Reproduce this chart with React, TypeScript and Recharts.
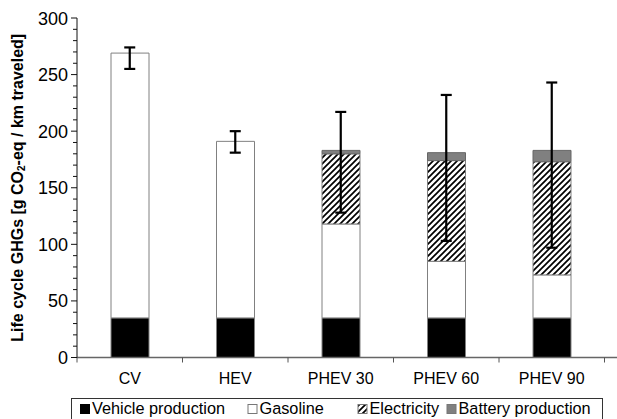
import React from 'react';
import { ComposedChart, Bar, Line, XAxis, YAxis, Legend, ErrorBar } from 'recharts';

const categories = ['CV', 'HEV', 'PHEV 30', 'PHEV 60', 'PHEV 90'];
const vehicleProduction = [35, 35, 35, 35, 35];
const gasoline = [234, 156, 83, 50, 38];
const electricity = [0, 0, 62, 89, 100];
const batteryProduction = [0, 0, 3, 7, 10];
const errorLow = [14, 10, 55, 78, 86];
const errorHigh = [5, 9, 34, 51, 60];
const yTicks = [0, 10, 20, 30, 40, 50, 60, 70, 80, 90, 100, 110, 120, 130, 140, 150, 160, 170, 180, 190, 200, 210, 220, 230, 240, 250, 260, 270, 280, 290, 300];
const seriesNames = ['Vehicle production', 'Gasoline', 'Electricity', 'Battery production'];

const data = categories.map((c, i) => ({
  name: c,
  vehicle: vehicleProduction[i],
  gasoline: gasoline[i],
  electricity: electricity[i],
  battery: batteryProduction[i],
  total: vehicleProduction[i] + gasoline[i] + electricity[i] + batteryProduction[i],
  err: [errorLow[i], errorHigh[i]],
}));

const FONT = '"Liberation Sans", Arial, Helvetica, sans-serif';

const YTick = (props: any) => {
  const { x, y, payload } = props;
  const v = payload.value;
  const major = v % 50 === 0;
  return (
    <g>
      <line x1={x - (major ? 6 : 4)} x2={x} y1={y} y2={y} stroke="#111" strokeWidth={1} />
      {major && (
        <text x={x - 9} y={y + 6.5} textAnchor="end" fontSize={18} fill="#000" fontFamily={FONT}>
          {v}
        </text>
      )}
    </g>
  );
};

const XTick = (props: any) => {
  const { x, y, payload, index } = props;
  const half = payload && payload.offset > 0 ? payload.offset : 52.75;
  return (
    <g>
      <line x1={x - half} x2={x - half} y1={y} y2={y + 5} stroke="#555" strokeWidth={1} />
      {index === categories.length - 1 && (
        <line x1={x + half} x2={x + half} y1={y} y2={y + 5} stroke="#555" strokeWidth={1} />
      )}
      <text x={x} y={y + 26} textAnchor="middle" fontSize={16} fill="#000" fontFamily={FONT}>
        {payload.value}
      </text>
    </g>
  );
};

const YLabel = (props: any) => {
  const vb = props.viewBox || { y: 18, height: 340 };
  const cx = 17;
  const cy = vb.y + vb.height / 2;
  return (
    <text
      x={cx}
      y={cy}
      transform={`rotate(-90 ${cx} ${cy})`}
      textAnchor="middle"
      dominantBaseline="central"
      fontSize={16}
      fontWeight="bold"
      fill="#000"
      fontFamily={FONT}
    >
      Life cycle GHGs [g CO
      <tspan fontSize={10} dy={4}>2</tspan>
      <tspan dy={-4}>-eq / km traveled]</tspan>
    </text>
  );
};

const legendItems = [
  { name: seriesNames[0], fill: '#000', mx: 80, tx: 92 },
  { name: seriesNames[1], fill: '#fff', mx: 247.5, tx: 259.5 },
  { name: seriesNames[2], fill: 'url(#hatch)', mx: 357.5, tx: 369.5 },
  { name: seriesNames[3], fill: '#808080', mx: 446.5, tx: 458.5 },
];

const renderLegend = () => (
  <svg width={617} height={24} style={{ display: 'block', overflow: 'visible' }}>
    <rect x={71.5} y={0.5} width={531} height={30} fill="#fff" stroke="#333" strokeWidth={1} />
    {legendItems.map((it) => (
      <g key={it.name}>
        <rect x={it.mx + 0.5} y={6.5} width={9} height={9} fill={it.fill} stroke={it.fill === '#000' ? '#000' : '#777'} strokeWidth={1} />
        <text x={it.tx} y={16} fontSize={16.3} fill="#000" fontFamily={FONT}>
          {it.name}
        </text>
      </g>
    ))}
  </svg>
);

export default function App() {
  return (
    <div style={{ position: 'absolute', left: 0, top: 0, width: 617, height: 419, background: '#fff' }}>
      <svg width={0} height={0} style={{ position: 'absolute' }}>
        <defs>
          <pattern id="hatch" patternUnits="userSpaceOnUse" width={6} height={6}>
            <rect x={0} y={0} width={6} height={6} fill="#fff" />
            <path d="M-1,1 L1,-1 M0,6 L6,0 M5,7 L7,5" stroke="#000" strokeWidth={1.7} />
          </pattern>
        </defs>
      </svg>
      <ComposedChart
        width={617}
        height={419}
        data={data}
        margin={{ top: 18, right: 0, left: 17, bottom: 7.5 }}
        barSize={38}
      >
        <XAxis
          dataKey="name"
          padding={{ left: 0, right: 12.5 }}
          axisLine={{ stroke: '#666', strokeWidth: 1.5 }}
          tickLine={false}
          tickSize={0}
          tickMargin={0}
          height={30}
          interval={0}
          tick={<XTick />}
        />
        <YAxis
          type="number"
          domain={[0, 300]}
          ticks={yTicks}
          interval={0}
          width={60}
          axisLine={{ stroke: '#111', strokeWidth: 1 }}
          tickLine={false}
          tickSize={0}
          tickMargin={0}
          tick={<YTick />}
          label={{ content: <YLabel /> }}
        />
        <Legend
          verticalAlign="bottom"
          content={renderLegend}
          wrapperStyle={{ left: 0, top: 398, width: 617, height: 24 }}
        />
        <Bar dataKey="vehicle" name={seriesNames[0]} stackId="a" fill="#000" stroke="#808080" strokeWidth={1} isAnimationActive={false} />
        <Bar dataKey="gasoline" name={seriesNames[1]} stackId="a" fill="#fff" stroke="#808080" strokeWidth={1} isAnimationActive={false} />
        <Bar dataKey="electricity" name={seriesNames[2]} stackId="a" fill="url(#hatch)" stroke="#808080" strokeWidth={1} isAnimationActive={false} />
        <Bar dataKey="battery" name={seriesNames[3]} stackId="a" fill="#808080" stroke="#666" strokeWidth={1} isAnimationActive={false} />
        <Line
          dataKey="total"
          stroke="none"
          dot={false}
          activeDot={false}
          legendType="none"
          isAnimationActive={false}
        >
          <ErrorBar dataKey="err" width={5.5} strokeWidth={2.2} stroke="#000" direction="y" isAnimationActive={false} />
        </Line>
      </ComposedChart>
    </div>
  );
}
